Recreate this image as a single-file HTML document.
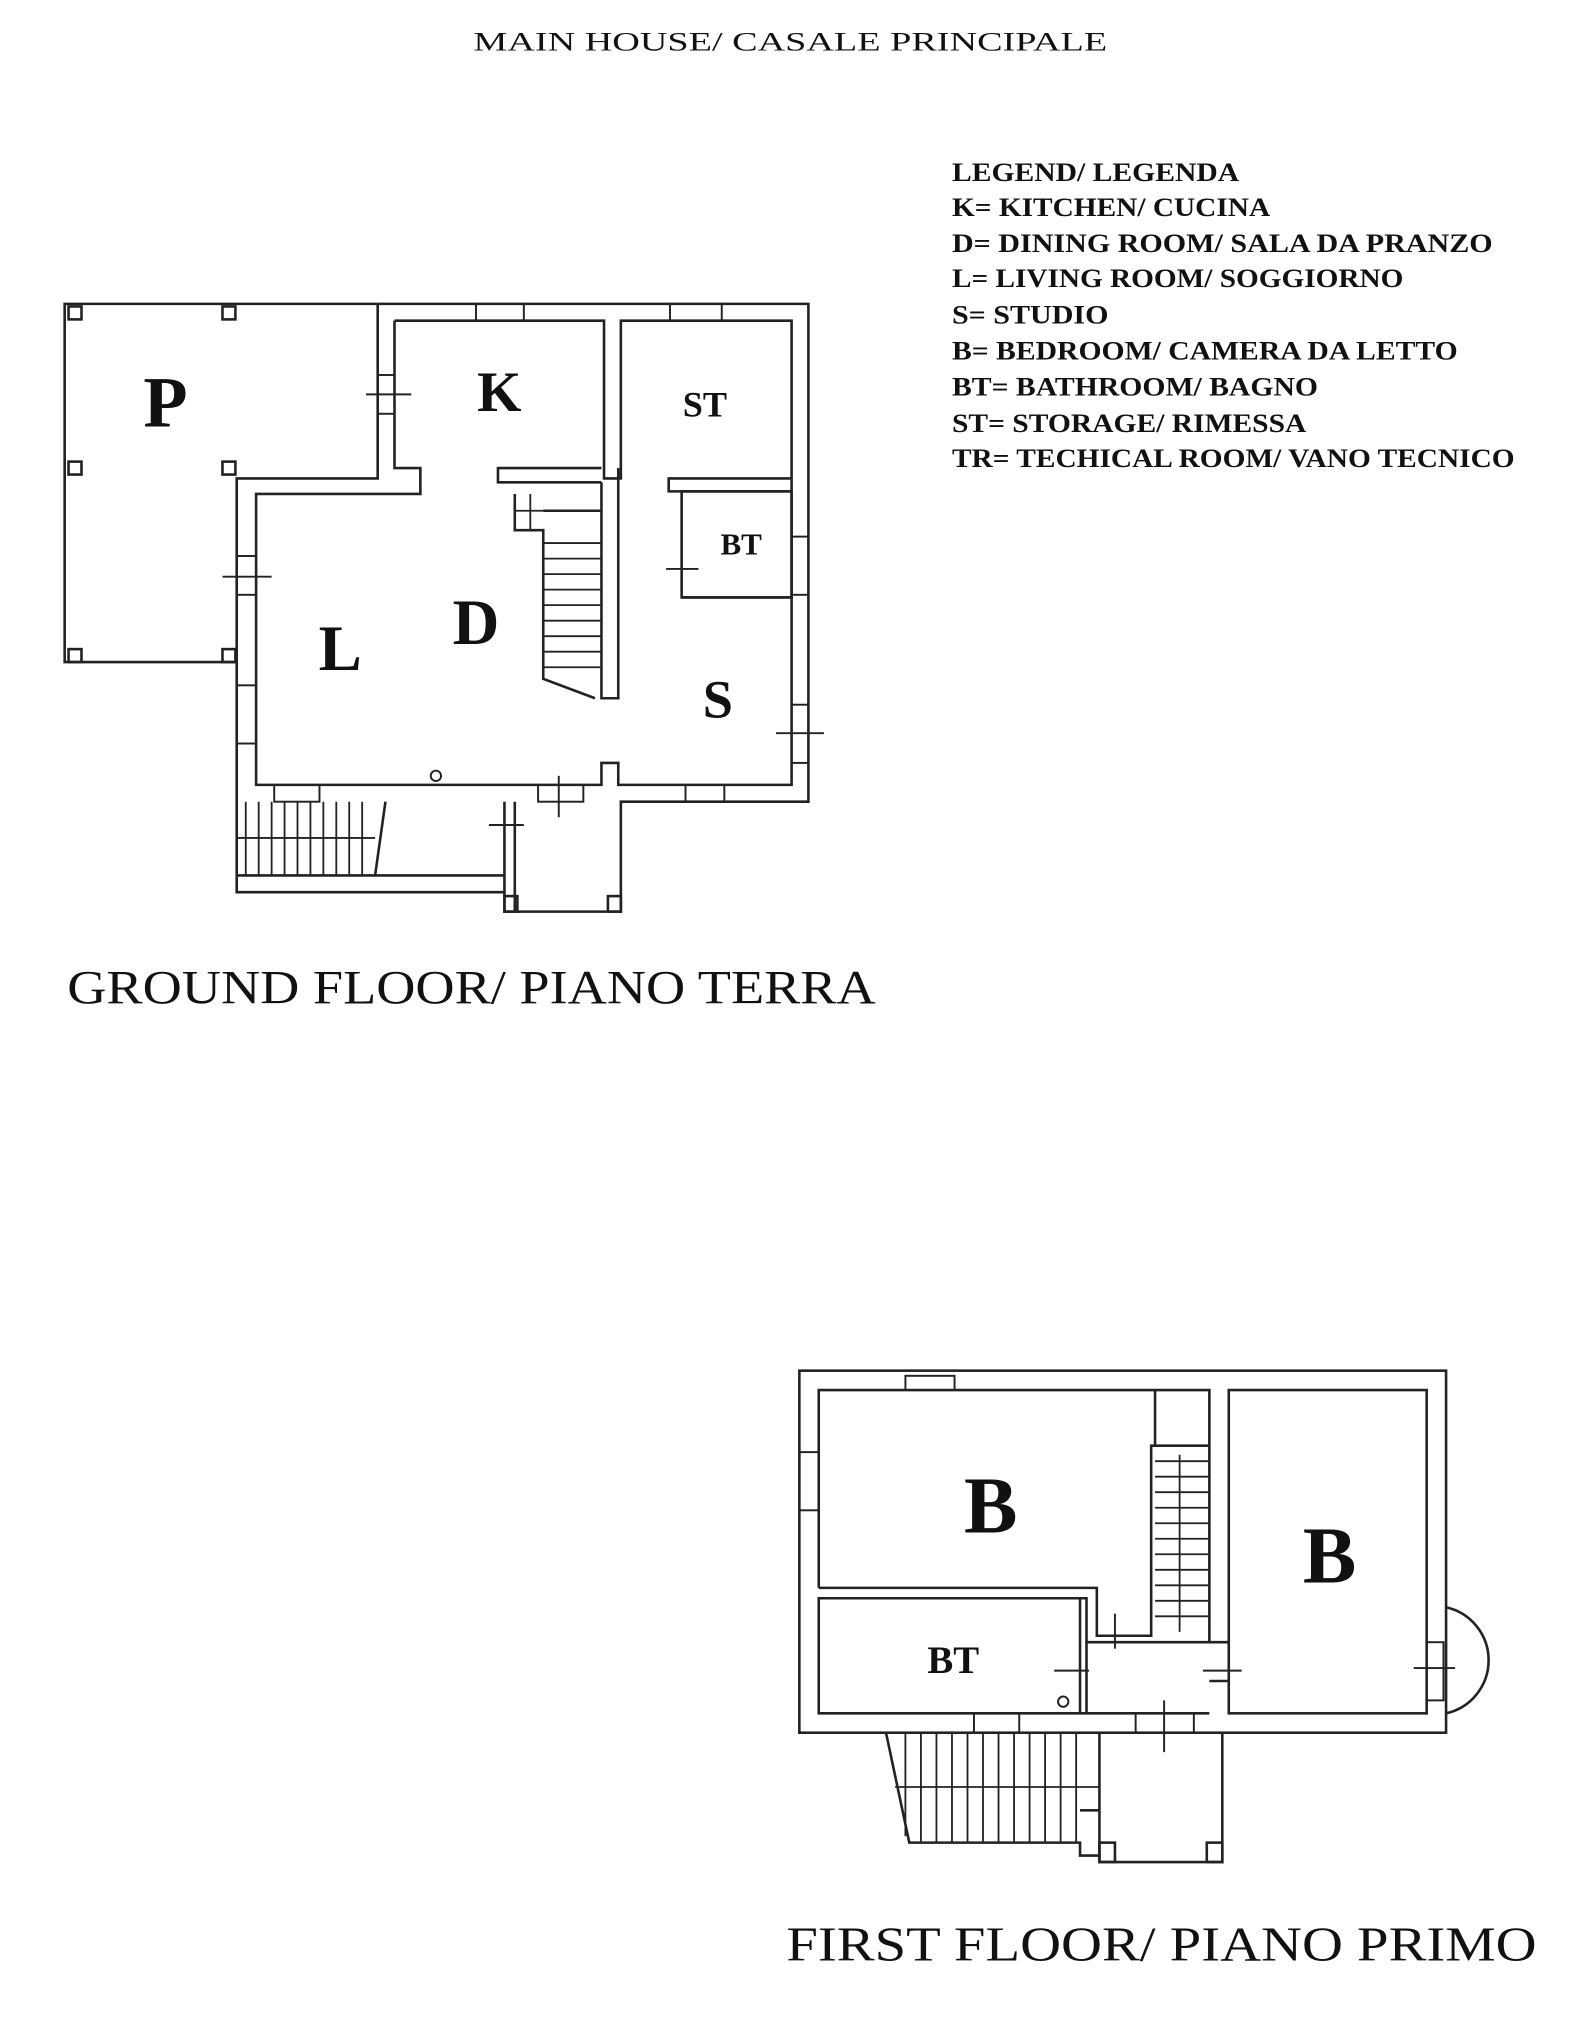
<!DOCTYPE html>
<html><head><meta charset="utf-8"><style>
html,body{margin:0;padding:0;background:#fff;}
svg{display:block;}
</style></head><body>
<svg width="1578" height="2034" viewBox="0 0 1220 1573" preserveAspectRatio="none" xmlns="http://www.w3.org/2000/svg">
<rect width="1220" height="1573" fill="#fff"/>
<g font-family="'Liberation Serif',serif" fill="#111">
<text x="366" y="39" font-size="20" textLength="490" lengthAdjust="spacingAndGlyphs">MAIN HOUSE/ CASALE PRINCIPALE</text>
<g font-size="20" font-weight="bold">
<text x="736" y="140" textLength="222" lengthAdjust="spacingAndGlyphs">LEGEND/ LEGENDA</text>
<text x="736" y="167" textLength="246" lengthAdjust="spacingAndGlyphs">K= KITCHEN/ CUCINA</text>
<text x="736" y="195" textLength="418" lengthAdjust="spacingAndGlyphs">D= DINING ROOM/ SALA DA PRANZO</text>
<text x="736" y="222" textLength="349" lengthAdjust="spacingAndGlyphs">L= LIVING ROOM/ SOGGIORNO</text>
<text x="736" y="250" textLength="121" lengthAdjust="spacingAndGlyphs">S= STUDIO</text>
<text x="736" y="278" textLength="391" lengthAdjust="spacingAndGlyphs">B= BEDROOM/ CAMERA DA LETTO</text>
<text x="736" y="306" textLength="283" lengthAdjust="spacingAndGlyphs">BT= BATHROOM/ BAGNO</text>
<text x="736" y="334" textLength="274" lengthAdjust="spacingAndGlyphs">ST= STORAGE/ RIMESSA</text>
<text x="736" y="361" textLength="435" lengthAdjust="spacingAndGlyphs">TR= TECHICAL ROOM/ VANO TECNICO</text>
</g>
<text x="52" y="776" font-size="37" textLength="625" lengthAdjust="spacingAndGlyphs">GROUND FLOOR/ PIANO TERRA</text>
<text x="608" y="1516" font-size="38" textLength="580" lengthAdjust="spacingAndGlyphs">FIRST FLOOR/ PIANO PRIMO</text>
<g font-weight="bold">
<text x="128" y="330" font-size="56" text-anchor="middle">P</text>
<text x="386" y="318" font-size="44" text-anchor="middle">K</text>
<text x="545" y="322" font-size="28" text-anchor="middle">ST</text>
<text x="573" y="429" font-size="24" text-anchor="middle">BT</text>
<text x="368" y="498" font-size="50" text-anchor="middle">D</text>
<text x="263" y="518" font-size="50" text-anchor="middle">L</text>
<text x="555" y="555" font-size="42" text-anchor="middle">S</text>
<text x="766" y="1185" font-size="62" text-anchor="middle">B</text>
<text x="1028" y="1224" font-size="62" text-anchor="middle">B</text>
<text x="737" y="1294" font-size="30" text-anchor="middle">BT</text>
</g>
</g>
<g fill="none" stroke="#222" stroke-width="2">
<polyline points="292,235 50,235 50,512 183,512"/>
<rect x="53" y="237" width="10" height="10"/><rect x="172" y="237" width="10" height="10"/>
<rect x="53" y="357" width="10" height="10"/><rect x="172" y="357" width="10" height="10"/>
<rect x="53" y="502" width="10" height="10"/><rect x="172" y="502" width="10" height="10"/>
<polyline points="292,235 625,235 625,620 480,620 480,705 390,705 390,690 183,690 183,370 292,370 292,235"/>
<polyline points="305,248 305,362 325,362 325,382 198,382 198,607 465,607 465,590 478,590 478,607 612,607 612,248 480,248 480,370 467,370 467,248 305,248"/>
<polyline points="465,362 385,362 385,373 465,373"/>
<polyline points="478,362 478,540 465,540 465,373"/>
<polyline points="612,370 517,370 517,380 612,380"/>
<rect x="527" y="380" width="85" height="82"/>
<line x1="527" y1="462" x2="612" y2="462"/>
<polyline points="398,382 398,410 420,410 420,525 460,540"/>
<line x1="420" y1="395" x2="465" y2="395"/>
<g stroke-width="1.4">
<line x1="398" y1="395" x2="420" y2="395"/><line x1="398" y1="410" x2="420" y2="410"/>
<line x1="410" y1="382" x2="410" y2="410"/>
<line x1="420" y1="420" x2="465" y2="420"/><line x1="420" y1="432" x2="465" y2="432"/>
<line x1="420" y1="444" x2="465" y2="444"/><line x1="420" y1="456" x2="465" y2="456"/>
<line x1="420" y1="468" x2="465" y2="468"/><line x1="420" y1="480" x2="465" y2="480"/>
<line x1="420" y1="492" x2="465" y2="492"/><line x1="420" y1="504" x2="465" y2="504"/>
<line x1="420" y1="516" x2="465" y2="516"/>
</g>
<line x1="183" y1="677" x2="390" y2="677"/>
<line x1="390" y1="620" x2="390" y2="690"/><line x1="398" y1="620" x2="398" y2="705"/>
<polyline points="298,620 290,677"/>
<g stroke-width="1.4">
<line x1="190" y1="620" x2="190" y2="677"/><line x1="200" y1="620" x2="200" y2="677"/>
<line x1="210" y1="620" x2="210" y2="677"/><line x1="220" y1="620" x2="220" y2="677"/>
<line x1="230" y1="620" x2="230" y2="677"/><line x1="240" y1="620" x2="240" y2="677"/>
<line x1="250" y1="620" x2="250" y2="677"/><line x1="260" y1="620" x2="260" y2="677"/>
<line x1="270" y1="620" x2="270" y2="677"/><line x1="280" y1="620" x2="280" y2="677"/>
<line x1="183" y1="648" x2="290" y2="648"/>
</g>
<rect x="390" y="693" width="10" height="12"/><rect x="470" y="693" width="10" height="12"/>
<g stroke-width="1.5">
<rect x="368" y="235" width="37" height="13"/><rect x="518" y="235" width="40" height="13"/>
<rect x="212" y="607" width="35" height="13"/><rect x="416" y="607" width="35" height="13"/><rect x="530" y="607" width="30" height="13"/>
<rect x="183" y="430" width="15" height="30"/><rect x="183" y="530" width="15" height="45"/>
<rect x="612" y="415" width="13" height="45"/><rect x="612" y="545" width="13" height="45"/>
<rect x="292" y="290" width="13" height="30"/>
<line x1="283" y1="305" x2="318" y2="305"/><line x1="172" y1="446" x2="210" y2="446"/>
<line x1="600" y1="567" x2="637" y2="567"/><line x1="432" y1="600" x2="432" y2="632"/>
<line x1="515" y1="440" x2="540" y2="440"/><line x1="378" y1="638" x2="405" y2="638"/>
<circle cx="337" cy="600" r="4"/>
</g>
<rect x="618" y="1060" width="500" height="280"/>
<polyline points="633,1228 633,1075 935,1075 935,1270 840,1270 840,1236 633,1236 633,1325 935,1325"/>
<rect x="950" y="1075" width="153" height="250"/>
<polyline points="835,1236 835,1325"/>
<line x1="840" y1="1270" x2="840" y2="1325"/>
<polyline points="633,1228 848,1228 848,1265 890,1265 890,1118 935,1118"/>
<line x1="893" y1="1075" x2="893" y2="1118"/>
<line x1="935" y1="1270" x2="950" y2="1270"/><line x1="935" y1="1300" x2="950" y2="1300"/>
<g stroke-width="1.4">
<line x1="893" y1="1130" x2="935" y2="1130"/><line x1="893" y1="1142" x2="935" y2="1142"/>
<line x1="893" y1="1154" x2="935" y2="1154"/><line x1="893" y1="1166" x2="935" y2="1166"/>
<line x1="893" y1="1178" x2="935" y2="1178"/><line x1="893" y1="1190" x2="935" y2="1190"/>
<line x1="893" y1="1202" x2="935" y2="1202"/><line x1="893" y1="1214" x2="935" y2="1214"/>
<line x1="893" y1="1226" x2="935" y2="1226"/><line x1="893" y1="1238" x2="935" y2="1238"/>
<line x1="893" y1="1250" x2="935" y2="1250"/><line x1="912" y1="1125" x2="912" y2="1262"/>
</g>
<path d="M1118,1243 A42,42 0 0 1 1118,1325"/>
<polyline points="685,1340 703,1425 835,1425 835,1435 850,1435 850,1440 945,1440 945,1340"/>
<line x1="850" y1="1340" x2="850" y2="1435"/><line x1="835" y1="1400" x2="850" y2="1400"/>
<rect x="850" y="1425" width="12" height="15"/><rect x="933" y="1425" width="12" height="15"/>
<g stroke-width="1.4">
<line x1="700" y1="1340" x2="700" y2="1420"/><line x1="712" y1="1340" x2="712" y2="1425"/>
<line x1="724" y1="1340" x2="724" y2="1425"/><line x1="736" y1="1340" x2="736" y2="1425"/>
<line x1="748" y1="1340" x2="748" y2="1425"/><line x1="760" y1="1340" x2="760" y2="1425"/>
<line x1="772" y1="1340" x2="772" y2="1425"/><line x1="784" y1="1340" x2="784" y2="1425"/>
<line x1="796" y1="1340" x2="796" y2="1425"/><line x1="808" y1="1340" x2="808" y2="1425"/>
<line x1="820" y1="1340" x2="820" y2="1425"/><line x1="832" y1="1340" x2="832" y2="1425"/>
<line x1="692" y1="1382" x2="850" y2="1382"/>
</g>
<g stroke-width="1.5">
<rect x="700" y="1064" width="38" height="11"/><rect x="618" y="1123" width="15" height="45"/>
<rect x="753" y="1325" width="35" height="15"/><rect x="878" y="1325" width="45" height="15"/>
<rect x="1103" y="1270" width="13" height="45"/>
<line x1="815" y1="1292" x2="842" y2="1292"/><line x1="930" y1="1292" x2="960" y2="1292"/>
<line x1="1093" y1="1290" x2="1125" y2="1290"/><line x1="900" y1="1315" x2="900" y2="1355"/>
<line x1="862" y1="1248" x2="862" y2="1275"/>
<circle cx="822" cy="1316" r="4"/>
</g>
</g>
</svg>
</body></html>
